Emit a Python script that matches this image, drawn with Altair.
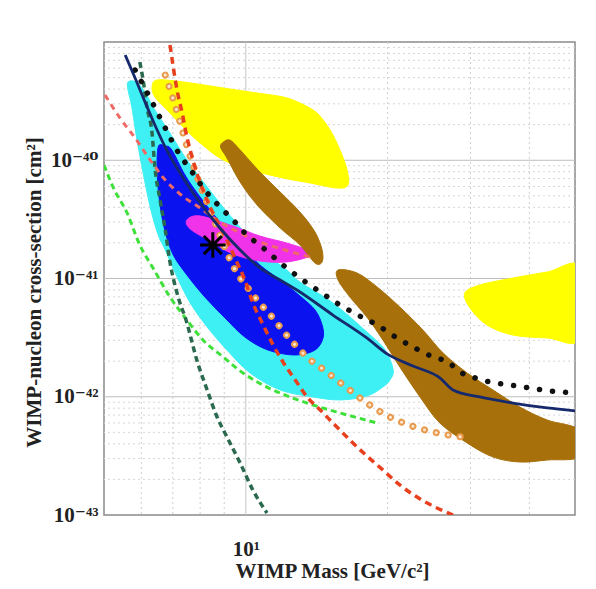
import altair as alt
import numpy as np
import pandas as pd

# All curve/region values: log10(WIMP mass / GeV) and log10(cross-section / cm^2)
yellow1_lm = [0.801, 0.812, 0.867, 0.939, 1.009, 1.079, 1.115, 1.151, 1.179, 1.200, 1.215, 1.217, 1.194, 1.136, 1.079, 1.009, 0.952, 0.903, 0.867, 0.833, 0.807]
yellow1_ls = [-39.381, -39.321, -39.338, -39.381, -39.423, -39.465, -39.516, -39.600, -39.744, -39.913, -40.082, -40.209, -40.235, -40.192, -40.150, -40.082, -39.998, -39.854, -39.719, -39.575, -39.465]

yellow2_lm = [1.465, 1.497, 1.567, 1.640, 1.710, 1.710, 1.640, 1.567, 1.512, 1.476]
yellow2_ls = [-41.123, -41.055, -40.996, -40.945, -40.905, -41.505, -41.503, -41.478, -41.393, -41.249]

cyan_lm = [0.750, 0.767, 0.786, 0.807, 0.839, 0.875, 0.918, 0.960, 1.003, 1.045, 1.087, 1.115, 1.185, 1.257, 1.296, 1.313, 1.306, 1.291, 1.257, 1.200, 1.143, 1.073, 1.009, 0.960, 0.918, 0.882, 0.854, 0.829, 0.814, 0.797, 0.782, 0.769, 0.758, 0.750]
cyan_ls = [-39.338, -39.338, -39.423, -39.575, -39.770, -39.998, -40.226, -40.438, -40.632, -40.801, -40.928, -41.030, -41.207, -41.452, -41.605, -41.774, -41.858, -41.918, -41.994, -42.027, -42.002, -41.943, -41.799, -41.605, -41.410, -41.207, -40.987, -40.759, -40.632, -40.395, -40.108, -39.829, -39.550, -39.406]

blue_lm = [0.814, 0.829, 0.843, 0.871, 0.903, 0.945, 0.988, 1.030, 1.073, 1.115, 1.147, 1.162, 1.164, 1.147, 1.105, 1.047, 0.998, 0.956, 0.913, 0.875, 0.846, 0.829, 0.818, 0.812]
blue_ls = [-39.888, -39.880, -39.913, -40.125, -40.311, -40.522, -40.717, -40.886, -41.013, -41.148, -41.266, -41.393, -41.503, -41.605, -41.647, -41.605, -41.495, -41.334, -41.156, -40.970, -40.801, -40.607, -40.378, -40.125]

magenta_lm = [0.875, 0.903, 0.973, 1.030, 1.087, 1.130, 1.136, 1.087, 1.030, 0.973, 0.924, 0.882]
magenta_ls = [-40.505, -40.471, -40.556, -40.641, -40.700, -40.759, -40.810, -40.860, -40.852, -40.793, -40.683, -40.581]

brown1_lm = [0.950, 0.966, 0.988, 1.030, 1.073, 1.115, 1.147, 1.162, 1.162, 1.147, 1.115, 1.073, 1.024, 0.988, 0.960, 0.947]
brown1_ls = [-39.854, -39.829, -39.913, -40.099, -40.269, -40.438, -40.607, -40.759, -40.860, -40.869, -40.717, -40.573, -40.378, -40.184, -39.981, -39.896]

brown2_lm = [1.196, 1.236, 1.279, 1.327, 1.376, 1.419, 1.470, 1.525, 1.582, 1.640, 1.710, 1.710, 1.640, 1.582, 1.525, 1.470, 1.412, 1.370, 1.327, 1.291, 1.257, 1.221, 1.196]
brown2_ls = [-40.928, -40.953, -41.072, -41.241, -41.436, -41.630, -41.799, -41.943, -42.087, -42.197, -42.285, -42.505, -42.535, -42.552, -42.510, -42.391, -42.222, -42.002, -41.748, -41.520, -41.326, -41.156, -41.013]

navy_lm = [0.744, 0.765, 0.786, 0.807, 0.832, 0.867, 0.903, 0.945, 0.988, 1.030, 1.073, 1.115, 1.185, 1.257, 1.300, 1.355, 1.412, 1.440, 1.497, 1.567, 1.640, 1.699]
navy_ls = [-39.110, -39.304, -39.507, -39.702, -39.913, -40.150, -40.361, -40.573, -40.759, -40.911, -41.013, -41.114, -41.309, -41.503, -41.638, -41.740, -41.840, -41.943, -42.002, -42.053, -42.095, -42.120]

black_lm = [0.765, 0.801, 0.829, 0.856, 0.886, 0.913, 0.941, 0.973, 0.998, 1.037, 1.079, 1.115, 1.158, 1.200, 1.238, 1.279, 1.321, 1.359, 1.398, 1.429, 1.455, 1.487, 1.518, 1.561, 1.603, 1.646, 1.699]
black_ls = [-39.237, -39.507, -39.727, -39.930, -40.099, -40.252, -40.378, -40.505, -40.615, -40.742, -40.886, -40.996, -41.114, -41.224, -41.309, -41.393, -41.503, -41.588, -41.664, -41.706, -41.791, -41.841, -41.875, -41.901, -41.926, -41.951, -41.968]

dkgreen_lm = [0.775, 0.782, 0.790, 0.801, 0.807, 0.818, 0.829, 0.839, 0.854, 0.875, 0.896, 0.918, 0.939, 0.960, 0.988, 1.015, 1.045]
dkgreen_ls = [-39.169, -39.321, -39.550, -39.770, -40.057, -40.336, -40.590, -40.860, -41.123, -41.376, -41.689, -41.943, -42.171, -42.340, -42.560, -42.789, -42.983]

ltgreen_lm = [0.699, 0.718, 0.748, 0.775, 0.803, 0.839, 0.875, 0.909, 0.952, 0.994, 1.045, 1.094, 1.143, 1.200, 1.279]
ltgreen_ls = [-40.040, -40.226, -40.446, -40.717, -40.911, -41.156, -41.351, -41.520, -41.664, -41.799, -41.918, -42.002, -42.070, -42.137, -42.222]

salmon_lm = [0.701, 0.733, 0.765, 0.797, 0.829, 0.860, 0.903, 0.945, 0.988, 1.030, 1.083, 1.136]
salmon_ls = [-39.448, -39.643, -39.812, -39.998, -40.167, -40.285, -40.404, -40.522, -40.615, -40.691, -40.759, -40.818]

red_lm = [0.839, 0.846, 0.854, 0.865, 0.875, 0.886, 0.896, 0.909, 0.924, 0.941, 0.960, 0.977, 0.998, 1.015, 1.037, 1.058, 1.079, 1.105, 1.132, 1.158, 1.185, 1.221, 1.257, 1.291, 1.327, 1.370, 1.406, 1.440]
red_ls = [-39.025, -39.211, -39.406, -39.600, -39.803, -39.973, -40.108, -40.252, -40.395, -40.531, -40.674, -40.827, -41.013, -41.207, -41.393, -41.562, -41.706, -41.858, -42.011, -42.112, -42.222, -42.366, -42.501, -42.619, -42.746, -42.865, -42.941, -43.000]

orange_lm = [0.829, 0.843, 0.856, 0.871, 0.886, 0.903, 0.924, 0.945, 0.962, 0.981, 1.003, 1.024, 1.056, 1.090, 1.130, 1.172, 1.215, 1.257, 1.306, 1.359, 1.408, 1.459]
orange_ls = [-39.279, -39.448, -39.617, -39.829, -40.015, -40.209, -40.421, -40.632, -40.801, -40.953, -41.072, -41.182, -41.326, -41.495, -41.664, -41.791, -41.926, -42.053, -42.171, -42.256, -42.307, -42.340]

star_lm = [0.930]
star_ls = [-40.717]

# axes
x_tick_vals = [10]
x_tick_text = ["10¹"]
y_tick_vals = [1e-43, 1e-42, 1e-41, 1e-40]
y_tick_text = ["10⁻⁴³", "10⁻⁴²", "10⁻⁴¹", "10⁻⁴⁰"]
x_grid_minor = [6, 7, 8, 9, 20, 30, 40]
x_grid_major = [10]
y_grid_major = [1e-42, 1e-41, 1e-40]
y_grid_minor = [2e-43, 3e-43, 4e-43, 5e-43, 6e-43, 7e-43, 8e-43, 9e-43,
                2e-42, 3e-42, 4e-42, 5e-42, 6e-42, 7e-42, 8e-42, 9e-42,
                2e-41, 3e-41, 4e-41, 5e-41, 6e-41, 7e-41, 8e-41, 9e-41,
                2e-40, 3e-40, 4e-40, 5e-40, 6e-40, 7e-40, 8e-40, 9e-40]


def frame(lm, ls):
    return pd.DataFrame({"m": np.power(10.0, lm), "s": np.power(10.0, ls), "i": np.arange(len(lm))})


y_expr = " : ".join(f"datum.value < {v * 3:.3g} ? '{t}'" for v, t in zip(y_tick_vals, y_tick_text)) + " : ''"
x_expr = f"'{x_tick_text[0]}'"

FONT = "'Liberation Serif', 'DejaVu Serif', serif"

xs = alt.Scale(type="log", domain=[5, 50], nice=False)
ys = alt.Scale(type="log", domain=[1e-43, 1e-39], nice=False)

X = alt.X("m:Q", scale=xs, axis=alt.Axis(values=x_tick_vals, labelExpr=x_expr, title="WIMP Mass [GeV/c²]",
                                          grid=False, ticks=False, domain=False, labelBaseline="alphabetic",
                                          labelPadding=40, titleBaseline="alphabetic", titleY=62, titleX=228))
Y = alt.Y("s:Q", scale=ys, axis=alt.Axis(values=y_tick_vals, labelExpr=y_expr,
                                          title="WIMP-nucleon cross-section [cm²]", grid=False, ticks=False,
                                          domain=False, labelPadding=6, titleX=-60, titleY=250))

layers = []
layers.append(alt.Chart(pd.DataFrame({"m": x_grid_minor})).mark_rule(color="#cfcfcf", strokeDash=[2, 3], strokeWidth=1).encode(x=X))
layers.append(alt.Chart(pd.DataFrame({"m": x_grid_major})).mark_rule(color="#c8c8c8", strokeWidth=1).encode(x=X))
layers.append(alt.Chart(pd.DataFrame({"s": y_grid_minor})).mark_rule(color="#d6d6d6", strokeDash=[2, 3], strokeWidth=1).encode(y=Y))
layers.append(alt.Chart(pd.DataFrame({"s": y_grid_major})).mark_rule(color="#bdbdbd", strokeWidth=1).encode(y=Y))


def poly(lm, ls, color):
    return alt.Chart(frame(lm, ls)).mark_line(interpolate="cardinal-closed", fill=color, stroke=color,
                                              strokeWidth=1, clip=True).encode(x=X, y=Y, order="i:Q")


def curve(lm, ls, color, width, dash=None, cap="butt"):
    kw = dict(interpolate="monotone", color=color, strokeWidth=width, strokeCap=cap, clip=True)
    if dash is not None:
        kw["strokeDash"] = dash
    return alt.Chart(frame(lm, ls)).mark_line(**kw).encode(x=X, y=Y, order="i:Q")


layers += [
    poly(yellow1_lm, yellow1_ls, "#ffff00"),
    poly(yellow2_lm, yellow2_ls, "#ffff00"),
    poly(cyan_lm, cyan_ls, "#3ef0f4"),
    poly(blue_lm, blue_ls, "#0a12f0"),
    poly(magenta_lm, magenta_ls, "#f032e8"),
    poly(brown1_lm, brown1_ls, "#a8700a"),
    poly(brown2_lm, brown2_ls, "#a8700a"),
    curve(ltgreen_lm, ltgreen_ls, "#3ee03a", 3, [6, 4]),
    curve(dkgreen_lm, dkgreen_ls, "#2b6a4e", 3.5, [6, 4]),
    curve(salmon_lm, salmon_ls, "#ef6a66", 3, [6, 5]),
    curve(orange_lm, orange_ls, "#e89a4e", 7, [0.1, 12], "round"),
    curve(orange_lm, orange_ls, "#fbe6d0", 3, [0.1, 12], "round"),
    curve(red_lm, red_ls, "#e8401e", 3.5, [7, 5]),
    curve(black_lm, black_ls, "#111111", 5.5, [0.1, 13], "round"),
    curve(navy_lm, navy_ls, "#16296c", 2.8),
]

asterisk = "M-1,0L1,0M0,-1L0,1M-0.71,-0.71L0.71,0.71M-0.71,0.71L0.71,-0.71"
layers.append(alt.Chart(frame(star_lm, star_ls)).mark_point(shape=asterisk, size=650, filled=False, stroke="black",
                                                            strokeWidth=3, opacity=1).encode(x=X, y=Y))

chart = alt.layer(*layers).properties(
    width=471, height=473,
    autosize=alt.AutoSizeParams(type="none"),
    padding={"left": 96, "top": 34, "right": 13, "bottom": 66},
    background="white",
).configure_view(stroke="#8a8a8a", strokeWidth=1.5).configure_axis(
    labelFont=FONT, labelFontWeight="bold", labelFontSize=21, labelColor="#222",
    titleFont=FONT, titleFontWeight="bold", titleFontSize=21, titleColor="#222",
)

chart.save("out.html", embed_options={"renderer": "svg", "actions": False})
